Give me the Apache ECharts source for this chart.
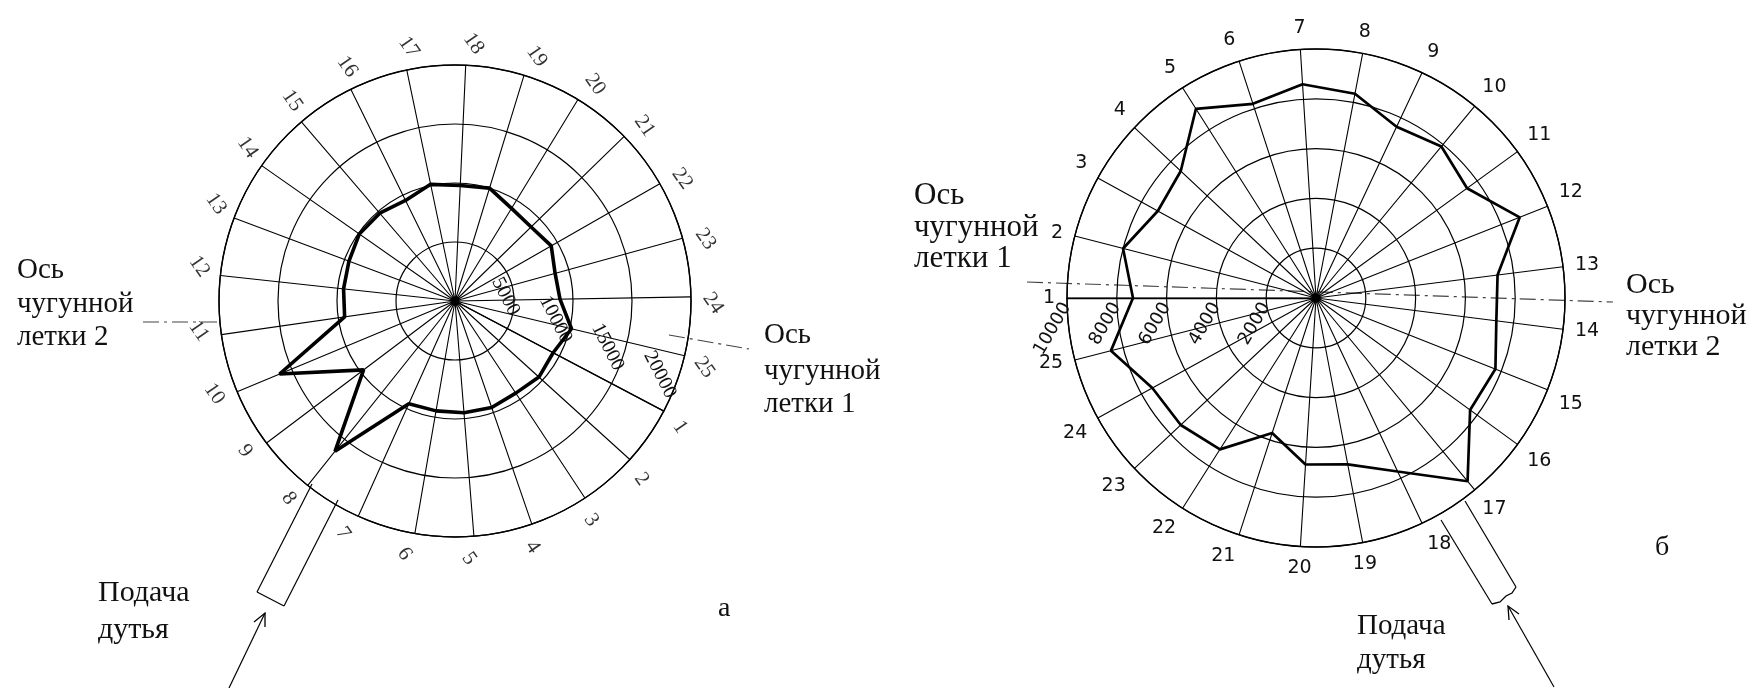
<!DOCTYPE html>
<html><head><meta charset="utf-8">
<script src="https://cdn.jsdelivr.net/npm/echarts@6/dist/echarts.min.js"></script>
<style>html,body{margin:0;padding:0;background:#fff}#c{width:1753px;height:688px}</style>
</head><body><div id="c"></div>
<script>
// ---- data ----
const tuyeres = ['1','2','3','4','5','6','7','8','9','10','11','12','13','14','15','16','17','18','19','20','21','22','23','24','25'];
// panel "а" (values along tuyeres 1..25)
const valuesA = [9400, 9600, 9350, 9550, 9500, 9450, 9550, 16300, 9700, 16100, 9450, 9500, 9600, 9900, 9800, 9500, 10100, 9800, 10000, 9200, 9000, 9400, 8800, 8900, 10150];
// panel "б"
const valuesB = [7350, 8000, 7250, 7450, 9000, 8200, 8600, 8350, 7600, 7900, 7500, 8800, 7350, 7300, 7750, 7650, 9550, 7700, 6800, 6700, 5700, 7200, 7450, 7500, 8500];
const ticksA = [0, 5000, 10000, 15000, 20000];
const ticksB = [0, 2000, 4000, 6000, 8000, 10000];

const N = tuyeres.length;
function loop(vals) {
  const d = vals.map((v, i) => [v, i]);
  d.push([vals[0], 0]);
  return d;
}
function catLabel(v) { return v < N ? tuyeres[v] : ''; }

const INK = '#000';
const serif = '"Liberation Serif", "DejaVu Serif", serif';
const sans = '"DejaVu Sans", sans-serif';

function txt(text, x, y, size, fam) {
  return { type: 'text', x: x, y: y, style: { text: text, font: size + 'px ' + (fam || serif), fill: '#111', verticalAlign: 'middle' } };
}
function ln(x1, y1, x2, y2, dash, w) {
  return { type: 'line', shape: { x1, y1, x2, y2 }, style: { stroke: dash ? '#444' : INK, lineWidth: w || 1.2, lineDash: dash ? [16, 5, 3, 5] : null } };
}
function pl(points) {
  return { type: 'polyline', shape: { points: points }, style: { stroke: INK, lineWidth: 1.3, fill: null } };
}

function angleAxis(idx, start, grid, labelOpt) {
  return {
    polarIndex: idx, type: 'value', min: 0, max: N, interval: 1,
    startAngle: start, clockwise: true,
    axisLine: { show: grid, lineStyle: { color: INK, width: 1.4 } },
    axisTick: { show: false },
    splitLine: { show: grid, lineStyle: { color: INK, width: 1.1 } },
    axisLabel: labelOpt ? Object.assign({ formatter: catLabel }, labelOpt) : { show: false }
  };
}
function radiusAxis(idx, ticks, labelOpt) {
  return {
    polarIndex: idx, type: 'value', min: ticks[0], max: ticks[ticks.length - 1], interval: ticks[1] - ticks[0],
    axisLine: { show: true, lineStyle: { color: INK, width: 1.4 } },
    axisTick: { show: false },
    splitLine: { show: true, lineStyle: { color: INK, width: 1.2 } },
    axisLabel: Object.assign({ showMinLabel: false, formatter: v => String(v), color: '#111' }, labelOpt)
  };
}

const chart = echarts.init(document.getElementById('c'), null, { renderer: 'canvas' });
chart.setOption({
  backgroundColor: '#fff',
  animation: false,
  polar: [
    { center: [455, 301], radius: 236 },
    { center: [1316, 298], radius: 249 },
    { center: [455, 301], radius: 258 }   // label ring for panel а (rotated tuyere numbers)
  ],
  angleAxis: [
    angleAxis(0, -27.8, true, null),
    angleAxis(1, 180, true, { margin: 12, fontFamily: sans, fontSize: 19, color: '#111' }),
    angleAxis(2, -29.3, false, null)
  ],
  radiusAxis: [
    radiusAxis(0, ticksA, { rotate: -63, margin: 16, fontFamily: serif, fontSize: 20 }),
    radiusAxis(1, ticksB, { rotate: 60, margin: 6, fontFamily: sans, fontSize: 18 }),
    { polarIndex: 2, type: 'value', min: 0, max: 1, show: false }
  ],
  series: [
    { type: 'line', coordinateSystem: 'polar', polarIndex: 0, data: loop(valuesA), symbol: 'none',
      lineStyle: { color: '#000', width: 3.6 }, z: 5 },
    { type: 'line', coordinateSystem: 'polar', polarIndex: 1, data: loop(valuesB), symbol: 'none',
      lineStyle: { color: '#000', width: 2.7 }, z: 5 },
    { type: 'scatter', coordinateSystem: 'polar', polarIndex: 2, symbolSize: 0,
      data: tuyeres.map((t, i) => [1, i]),
      label: { show: true, position: 'inside', rotate: -55, formatter: p => tuyeres[p.dataIndex],
               fontFamily: serif, fontSize: 21, color: '#000' }, silent: true }
  ],
  graphic: [
    // panel а texts
    txt('Ось', 17, 270, 29), txt('чугунной', 17, 304, 29), txt('летки 2', 17, 337, 29),
    txt('Ось', 764, 335, 29), txt('чугунной', 764, 371, 29), txt('летки 1', 764, 404, 29),
    txt('Подача', 98, 593, 30), txt('дутья', 98, 630, 30),
    txt('а', 718, 609, 28),
    ln(143, 322, 220, 322, true), ln(669, 335, 749, 349, true),
    ln(312, 484, 257, 592), ln(338, 500, 284, 606), ln(257, 592, 284, 606),
    ln(265, 613, 229, 688), pl([[254, 622], [265, 613], [265, 627]]),
    // panel б texts
    txt('Ось', 914, 196, 31), txt('чугунной', 914, 228, 31), txt('летки 1', 914, 259, 31),
    txt('Ось', 1626, 285, 30), txt('чугунной', 1626, 316, 30), txt('летки 2', 1626, 347, 30),
    txt('Подача', 1357, 626, 29), txt('дутья', 1357, 660, 29),
    txt('б', 1655, 548, 28),
    ln(1027, 282, 1613, 302, true),
    ln(1441, 520, 1492, 604), ln(1465, 501, 1516, 587),
    pl([[1492, 604], [1500, 602], [1506, 596], [1512, 593], [1516, 587]]),
    ln(1508, 606, 1554, 687), pl([[1509, 620], [1508, 606], [1519, 614]])
  ]
});
</script>
</body></html>
